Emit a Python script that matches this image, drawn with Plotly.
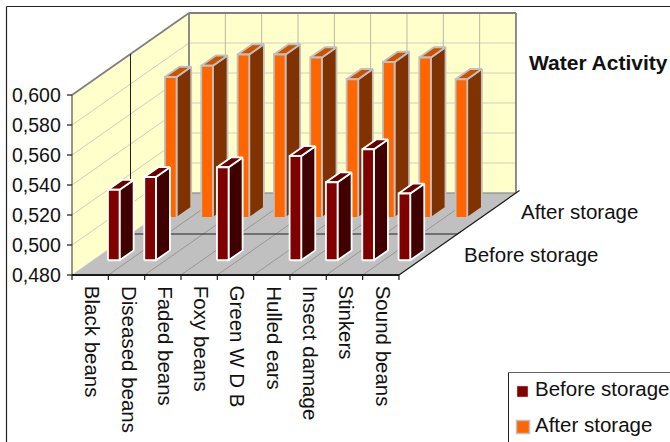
import plotly.graph_objects as go

categories = ["Black beans", "Diseased beans", "Faded beans", "Foxy beans", "Green W D B",
              "Hulled ears", "Insect damage", "Stinkers", "Sound beans"]
before_storage = [0.527, 0.5355, None, 0.542, None, 0.5495, 0.532, 0.554, 0.5245]
after_storage = [0.574, 0.5815, 0.589, 0.589, 0.587, 0.5725, 0.584, 0.587, 0.5725]
value_ticks = [0.48, 0.50, 0.52, 0.54, 0.56, 0.58, 0.60]
tick_labels = ["0,480", "0,500", "0,520", "0,540", "0,560", "0,580", "0,600"]

# Oblique projection of the 3D box onto the page
ORIGIN_X, ORIGIN_Y = 72.0, 275.0
SLOT = 36.33
DEPTH_X, DEPTH_Y = 117.0, -82.0
PX_PER_UNIT = 1500.0
V_MIN, V_MAX = 0.48, 0.60
N = len(categories)


def project(cat, depth, value):
    return (ORIGIN_X + SLOT * cat + DEPTH_X * depth,
            ORIGIN_Y + DEPTH_Y * depth - (value - V_MIN) * PX_PER_UNIT)


fig = go.Figure()


def polygon(corners, fill, line, width=1.0):
    xs, ys = zip(*(project(*c) for c in corners))
    fig.add_trace(go.Scatter(x=list(xs) + [xs[0]], y=list(ys) + [ys[0]], mode="lines", fill="toself",
                             fillcolor=fill, line=dict(color=line, width=width),
                             hoverinfo="skip", showlegend=False))


def segment(a, b, color, width=1.0):
    xs, ys = zip(project(*a), project(*b))
    fig.add_trace(go.Scatter(x=xs, y=ys, mode="lines", line=dict(color=color, width=width),
                             hoverinfo="skip", showlegend=False))


WALL, FLOOR = "#FFFFCC", "#C0C0C0"
# Walls and floor
polygon([(0, 0, V_MIN), (0, 1, V_MIN), (0, 1, V_MAX), (0, 0, V_MAX)], WALL, WALL, 0.5)
polygon([(0, 1, V_MIN), (N, 1, V_MIN), (N, 1, V_MAX), (0, 1, V_MAX)], WALL, WALL, 0.5)
polygon([(0, 0, V_MIN), (N, 0, V_MIN), (N, 1, V_MIN), (0, 1, V_MIN)], FLOOR, FLOOR, 0.5)

# Gridlines
for v in value_ticks[1:-1]:
    segment((0, 0, v), (0, 1, v), "#CFCFB8", 1)
    segment((0, 1, v), (N, 1, v), "#CFCFB8", 1)
for i in range(1, N):
    segment((i, 1, V_MIN), (i, 1, V_MAX), "#B8B8A8", 1)
    segment((i, 0, V_MIN), (i, 1, V_MIN), "#8C8C8C", 0.8)

# Wall outlines
GRAY = "#808080"
segment((0, 0, V_MAX), (0, 1, V_MAX), GRAY, 1.8)
segment((0, 1, V_MAX), (N, 1, V_MAX), GRAY, 1.8)
segment((0, 1, V_MIN), (0, 1, V_MAX), GRAY, 1.8)
segment((N, 1, V_MIN), (N, 1, V_MAX), GRAY, 1.8)
segment((0, 1, V_MIN), (N, 1, V_MIN), GRAY, 1.0)
segment((0, 0, V_MIN), (0, 0, V_MAX), "#303030", 1)

# Divider between the two series rows
segment((0, 0.5, V_MIN), (N, 0.5, V_MIN), "#202020", 1)
segment((0, 0.5, V_MIN), (0, 0.5, V_MAX), "#202020", 1)


def bar(cat, value, depth0, depth1, x_off, width, colors, edge, edge_width):
    if value is None:
        return
    front, side, top = colors
    c0, c1 = cat + x_off, cat + x_off + width
    polygon([(c1, depth0, V_MIN), (c1, depth1, V_MIN), (c1, depth1, value), (c1, depth0, value)], side, edge, edge_width)
    polygon([(c0, depth0, value), (c1, depth0, value), (c1, depth1, value), (c0, depth1, value)], top, edge, edge_width)
    polygon([(c0, depth0, V_MIN), (c1, depth0, V_MIN), (c1, depth0, value), (c0, depth0, value)], front, edge, edge_width)


for i, v in enumerate(after_storage):
    bar(i, v, 0.695, 0.82, 0.32, 0.32, ("#FF6600", "#803300", "#CC5200"), "#C0C0C0", 1.8)
for i, v in enumerate(before_storage):
    bar(i, v, 0.18, 0.30, 0.41, 0.32, ("#800000", "#400000", "#660000"), "#FFFFFF", 1.8)

# Axis lines and ticks
BLACK = "#1A1A1A"
segment((0, 0, V_MIN), (N, 0, V_MIN), BLACK, 1.8)
segment((N, 0, V_MIN), (N, 1.03, V_MIN), BLACK, 1.2)
segment((N, 0.5, V_MIN), (N, 0.53, V_MIN), BLACK, 1.0)

annotations = []
shapes = []
TICK_FONT = dict(size=19.5, color="#111111")
LABEL_FONT = dict(size=20.5, color="#111111")
for v, lab in zip(value_ticks, tick_labels):
    x, y = project(0, 0, v)
    shapes.append(dict(type="line", xref="x", yref="y", x0=x - 5, x1=x, y0=y, y1=y,
                       line=dict(color=BLACK, width=1.2)))
    annotations.append(dict(x=x - 9, y=y, text=lab, xanchor="right", yanchor="middle", showarrow=False,
                            font=TICK_FONT))
for i in range(N + 1):
    x, y = project(i, 0, V_MIN)
    shapes.append(dict(type="line", xref="x", yref="y", x0=x, x1=x, y0=y, y1=y + 5,
                       line=dict(color=BLACK, width=1.2)))
for i, lab in enumerate(categories):
    x, y = project(i + 0.5, 0, V_MIN)
    annotations.append(dict(x=x + 3, y=y + 9, text=lab, xanchor="center", yanchor="top", textangle=90,
                            showarrow=False, font=LABEL_FONT))

x, y = project(N, 0.75, V_MIN)
annotations.append(dict(x=x + 32, y=y - 2, text="After storage", xanchor="left", yanchor="middle",
                        showarrow=False, font=LABEL_FONT))
x, y = project(N, 0.25, V_MIN)
annotations.append(dict(x=x + 34, y=y, text="Before storage", xanchor="left", yanchor="middle",
                        showarrow=False, font=LABEL_FONT))
annotations.append(dict(x=527, y=62, text="<b>Water Activity</b>", xanchor="left", yanchor="middle",
                        showarrow=False, font=dict(size=21, color="#111111")))

# Chart frame and legend box, both open towards the page edges
shapes += [
    dict(type="line", xref="x", yref="y", x0=6.5, x1=670, y0=6.5, y1=6.5, line=dict(color="#222222", width=1.2)),
    dict(type="line", xref="x", yref="y", x0=6.5, x1=6.5, y0=6.5, y1=442, line=dict(color="#222222", width=1.2)),
    dict(type="line", xref="x", yref="y", x0=508.5, x1=670, y0=372.5, y1=372.5, line=dict(color="#666666", width=1.2)),
    dict(type="line", xref="x", yref="y", x0=508.5, x1=508.5, y0=372.5, y1=442, line=dict(color="#222222", width=1.0)),
    dict(type="rect", xref="x", yref="y", x0=517, x1=528, y0=386, y1=397, fillcolor="#800000",
         line=dict(color="#E8D0D0", width=0.5)),
    dict(type="rect", xref="x", yref="y", x0=516.5, x1=529.5, y0=420.5, y1=433.5, fillcolor="#FF6600",
         line=dict(color="#C0C0C0", width=1.5)),
]
annotations.append(dict(x=533, y=388, text="Before storage", xanchor="left", yanchor="middle",
                        showarrow=False, font=LABEL_FONT))
annotations.append(dict(x=533, y=424, text="After storage", xanchor="left", yanchor="middle",
                        showarrow=False, font=LABEL_FONT))

fig.update_layout(
    width=670, height=442, margin=dict(l=0, r=0, t=0, b=0),
    paper_bgcolor="white", plot_bgcolor="white", showlegend=False,
    font=dict(family="Liberation Sans"),
    xaxis=dict(range=[0, 670], visible=False, fixedrange=True),
    yaxis=dict(range=[442, 0], visible=False, fixedrange=True),
    shapes=shapes, annotations=annotations,
)
fig.write_html("out.html", config=dict(displayModeBar=False))
